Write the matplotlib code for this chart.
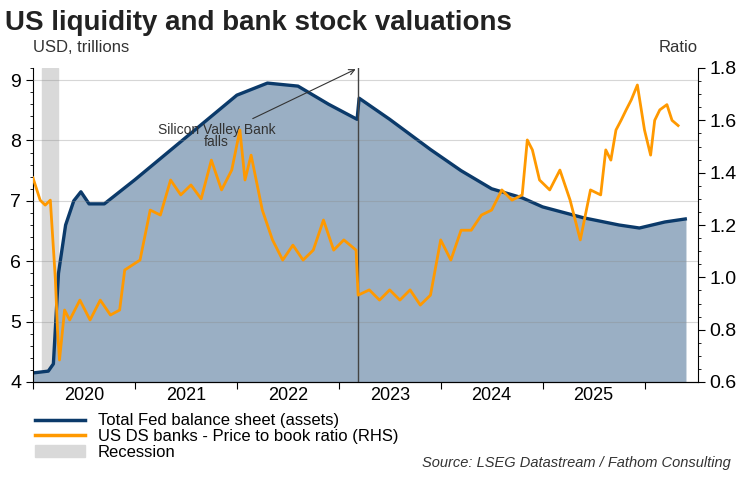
import matplotlib
matplotlib.use("Agg")
import matplotlib.pyplot as plt
from matplotlib.lines import Line2D
from matplotlib.patches import Patch
from matplotlib.ticker import MultipleLocator

fed_t = [2020.0,2020.15,2020.2,2020.25,2020.32,2020.4,2020.47,2020.55,2020.7,2021.0,2021.5,2022.0,2022.3,2022.6,2022.9,2023.18,2023.2,2023.5,2023.9,2024.2,2024.5,2024.8,2025.0,2025.4,2025.75,2025.95,2026.2,2026.4]
fed_v = [4.15,4.18,4.3,5.8,6.6,7.0,7.15,6.95,6.95,7.35,8.05,8.75,8.95,8.9,8.6,8.35,8.7,8.35,7.85,7.5,7.2,7.05,6.9,6.72,6.6,6.55,6.65,6.7]

pb_t = [2020.0,2020.07,2020.12,2020.17,2020.22,2020.24,2020.26,2020.31,2020.36,2020.46,2020.56,2020.66,2020.76,2020.85,2020.9,2021.05,2021.15,2021.25,2021.35,2021.45,2021.55,2021.65,2021.75,2021.85,2021.95,2022.03,2022.08,2022.14,2022.25,2022.35,2022.45,2022.55,2022.65,2022.75,2022.85,2022.95,2023.05,2023.17,2023.19,2023.3,2023.4,2023.5,2023.6,2023.7,2023.8,2023.9,2024.0,2024.1,2024.2,2024.3,2024.4,2024.5,2024.6,2024.7,2024.8,2024.85,2024.9,2024.97,2025.07,2025.17,2025.27,2025.37,2025.47,2025.57,2025.62,2025.67,2025.72,2025.77,2025.82]
pb_v = [1.38,1.295,1.276,1.295,0.99,0.80,0.684,0.875,0.837,0.913,0.837,0.913,0.856,0.875,1.028,1.066,1.257,1.238,1.372,1.315,1.353,1.30,1.448,1.334,1.41,1.563,1.372,1.467,1.257,1.143,1.066,1.123,1.066,1.104,1.219,1.104,1.143,1.104,0.932,0.952,0.913,0.952,0.913,0.952,0.894,0.932,1.143,1.066,1.18,1.18,1.238,1.257,1.334,1.295,1.315,1.525,1.487,1.372,1.334,1.41,1.295,1.143,1.334,1.315,1.487,1.448,1.563,1.60,1.64]
pb_t += [2025.87,2025.93,2026.0,2026.06,2026.1,2026.15,2026.22,2026.27,2026.33]
pb_v += [1.678,1.735,1.563,1.467,1.60,1.64,1.66,1.60,1.58]

plt.rcParams['font.family'] = ['Liberation Sans', 'DejaVu Sans']
fig = plt.figure(figsize=(7.5, 5), dpi=100)
ax = fig.add_axes([0.044, 0.236, 0.886, 0.628])
ax.axvspan(2020.09, 2020.25, color='#d9d9d9', zorder=0)
ax.fill_between(fed_t, 4, fed_v, color='#9aafc4', zorder=1)
ax.plot(fed_t, fed_v, color='#0b3a6a', lw=2.4, zorder=2)
ax.set_ylim(4, 9.2)
ax.set_xlim(2020.0, 2026.52)
ax.set_yticks([4,5,6,7,8,9])
ax.yaxis.set_minor_locator(MultipleLocator(0.2))
for y in [5,6,7,8,9]:
    ax.axhline(y, color='#8a8a8a', lw=0.8, alpha=0.35, zorder=3)
ax.axvline(2023.19, color='#444444', lw=1, zorder=4)
ax.set_xticks([2020+i for i in range(7)])
ax.set_xticklabels([])
ax.set_xticks([2020.5+i for i in range(6)], minor=True)
ax.set_xticklabels([str(2020+i) for i in range(6)], minor=True)
ax.tick_params(axis='x', which='minor', length=0, labelsize=13)
ax.tick_params(axis='x', which='major', length=5, direction='out')
ax.tick_params(axis='y', labelsize=14, length=5)
ax.tick_params(axis='y', which='minor', length=2.5)
for s in ['top','right']:
    ax.spines[s].set_visible(False)
ax2 = ax.twinx()
ax2.plot(pb_t, pb_v, color='#ff9900', lw=2, zorder=5)
ax2.set_ylim(0.6, 1.8)
ax2.set_yticks([0.6,0.8,1.0,1.2,1.4,1.6,1.8])
ax2.set_yticklabels(['0.6','0.8','1.0','1.2','1.4','1.6','1.8'])
ax2.yaxis.set_minor_locator(MultipleLocator(0.05))
ax2.tick_params(axis='y', labelsize=14, length=5)
ax2.tick_params(axis='y', which='minor', length=2.5)
ax2.spines['top'].set_visible(False)
ax2.spines['left'].set_visible(False)
ax2.annotate('Silicon Valley Bank\nfalls', xy=(2023.19, 1.8), xytext=(2021.8, 1.54),
             ha='center', va='center', fontsize=10, color='#333333', linespacing=0.9,
             arrowprops=dict(arrowstyle='->', color='#333333', lw=0.8))
fig.text(0.007, 0.94, 'US liquidity and bank stock valuations', fontsize=20, fontweight='bold', color='#222222')
fig.text(0.044, 0.895, 'USD, trillions', fontsize=12, color='#333333')
fig.text(0.93, 0.895, 'Ratio', fontsize=12, color='#333333', ha='right')
handles = [Line2D([0],[0], color='#0b3a6a', lw=2.5),
           Line2D([0],[0], color='#ff9900', lw=2.5),
           Patch(color='#d9d9d9')]
fig.legend(handles, ['Total Fed balance sheet (assets)', 'US DS banks - Price to book ratio (RHS)', 'Recession'],
           loc='upper left', bbox_to_anchor=(0.035, 0.19), frameon=False, fontsize=12,
           labelspacing=0.05, handlelength=3, borderpad=0)
fig.text(0.975, 0.065, 'Source: LSEG Datastream / Fathom Consulting', fontsize=10.5, style='italic', ha='right', color='#333333')
fig.savefig('out.png')
